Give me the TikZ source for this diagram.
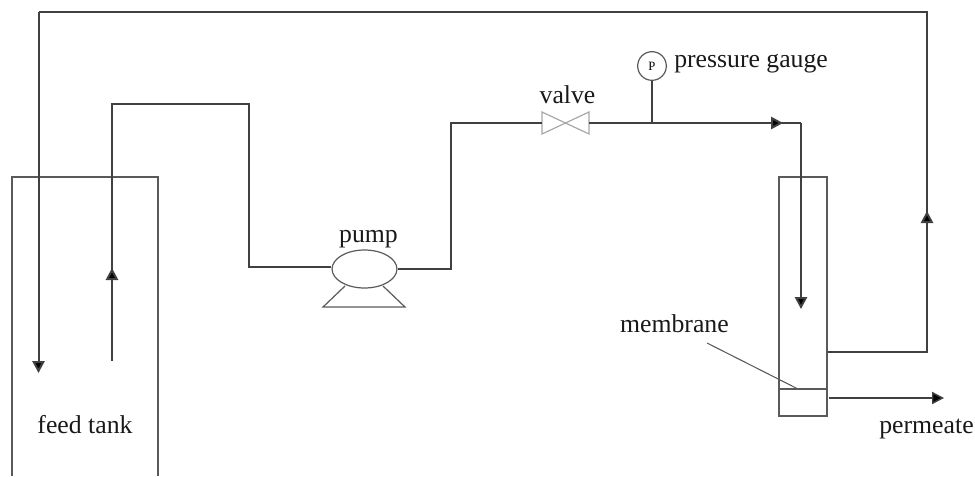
\documentclass[tikz,border=0pt]{standalone}
\usepackage{fontspec}
\setmainfont{Liberation Serif}
\usetikzlibrary{arrows.meta,shapes.geometric}
\definecolor{pipe}{HTML}{404040}
\definecolor{thin}{HTML}{5A5A5A}
\definecolor{valvec}{HTML}{A8A8A8}
\tikzset{
  pipeline/.style={draw=pipe,line width=1.5pt,line cap=butt,line join=miter},
  arrowline/.style={draw=pipe,line width=1.5pt,-{Triangle[length=9pt,width=9.2pt,fill=black]}},
  outline/.style={draw=thin,line width=0.9pt},
  lbl/.style={font=\fontsize{19.3pt}{21pt}\selectfont,text=black!90,inner sep=0pt,anchor=base},
}
\begin{document}
\begin{tikzpicture}[x=0.75pt,y=-0.75pt]
\useasboundingbox (0,0) rectangle (975,476);
% coordinates
\coordinate (tankTL) at (12,177);
\coordinate (tankTR) at (158,177);
\coordinate (tankBL) at (12,476);
\coordinate (tankBR) at (158,476);
\coordinate (outA) at (112,361);
\coordinate (outM) at (112,268);
\coordinate (outS) at (112,274);
\coordinate (outB) at (112,104);
\coordinate (outC) at (249,104);
\coordinate (outD) at (249,267);
\coordinate (pipeE) at (451,269);
\coordinate (pipeF) at (451,123);
\coordinate (jct) at (652,123);
\coordinate (arrM) at (783,123);
\coordinate (arrS) at (777,123);
\coordinate (corner) at (801,123);
\coordinate (downEnd) at (801,309);
\coordinate (retA) at (927,352);
\coordinate (retM) at (927,211);
\coordinate (retS) at (927,217);
\coordinate (retB) at (927,12);
\coordinate (retC) at (38.5,12);
\coordinate (retEnd) at (38.5,373);
\coordinate (permStart) at (829,398);
\coordinate (permEnd) at (944,398);
\coordinate (mLine) at (798,389);
% tank
\draw[outline] (tankBL) -- (tankTL) -- (tankTR) -- (tankBR);
\node[lbl] (tanklabel) at (85,433) {feed tank};
% pump
\node[ellipse,draw=thin,line width=0.9pt,minimum width=48.7pt,minimum height=28.5pt,inner sep=0pt] (pump) at (364.5,269) {};
\node[lbl] (pumplabel) at (368.5,242) {pump};
\coordinate (legL) at (345,286);
\coordinate (legR) at (383,286);
\coordinate (baseL) at (323,307);
\coordinate (baseR) at (405,307);
\draw[outline] (legL) -- (baseL) -- (baseR) -- (legR);
% valve
\coordinate (vW1) at (542,112);
\coordinate (vW2) at (542,134);
\coordinate (vE1) at (589,112);
\coordinate (vE2) at (589,134);
\coordinate (vIn) at (542,123);
\coordinate (vOut) at (589,123);
\draw[draw=valvec,line width=0.9pt] (vW1) -- (vE2) -- (vE1) -- (vW2) -- cycle;
\node[lbl] (valvelabel) at (567.5,103) {valve};
% gauge
\node[circle,draw=thin,line width=0.9pt,minimum size=21.5pt,inner sep=0pt,font=\fontsize{9.5pt}{10pt}\selectfont] (gauge) at (652,66) {P};
\node[lbl,anchor=base west] (gaugelabel) at (674,67) {pressure gauge};
% module
\node[draw=thin,line width=0.9pt,minimum width=36pt,minimum height=179.2pt,inner sep=0pt] (module) at (803,296.5) {};
\coordinate (mW) at (779,389);
\coordinate (mE) at (827,389);
\draw[outline] (mW) -- (mE);
\node[lbl,anchor=base east] (memlabel) at (729,332) {membrane};
\coordinate (pointer) at (707,343);
\draw[draw=thin,line width=0.8pt] (pointer) -- (mLine);
\node[lbl] (permlabel) at (926.5,433) {permeate};
% pipes
\draw[pipeline] (outS) -- (outB) -- (outC) -- (outD) -- (pump.west |- outD);
\draw[arrowline] (outA) -- (outM);
\draw[pipeline] (pump.east |- pipeE) -- (pipeE) -- (pipeF) -- (vIn);
\draw[pipeline] (arrS) -- (corner);
\draw[arrowline] (vOut) -- (arrM);
\draw[arrowline] (corner) -- (downEnd);
\draw[draw=pipe,line width=0.8pt] (gauge.south) -- (jct);
\draw[pipeline] (retS) -- (retB) -- (retC);
\draw[arrowline] (module.east |- retA) -- (retA) -- (retM);
\draw[arrowline] (retC) -- (retEnd);
\draw[draw=pipe,line width=1.1pt,-{Triangle[length=9pt,width=9.2pt,fill=black]}] (permStart) -- (permEnd);
\end{tikzpicture}
\end{document}
